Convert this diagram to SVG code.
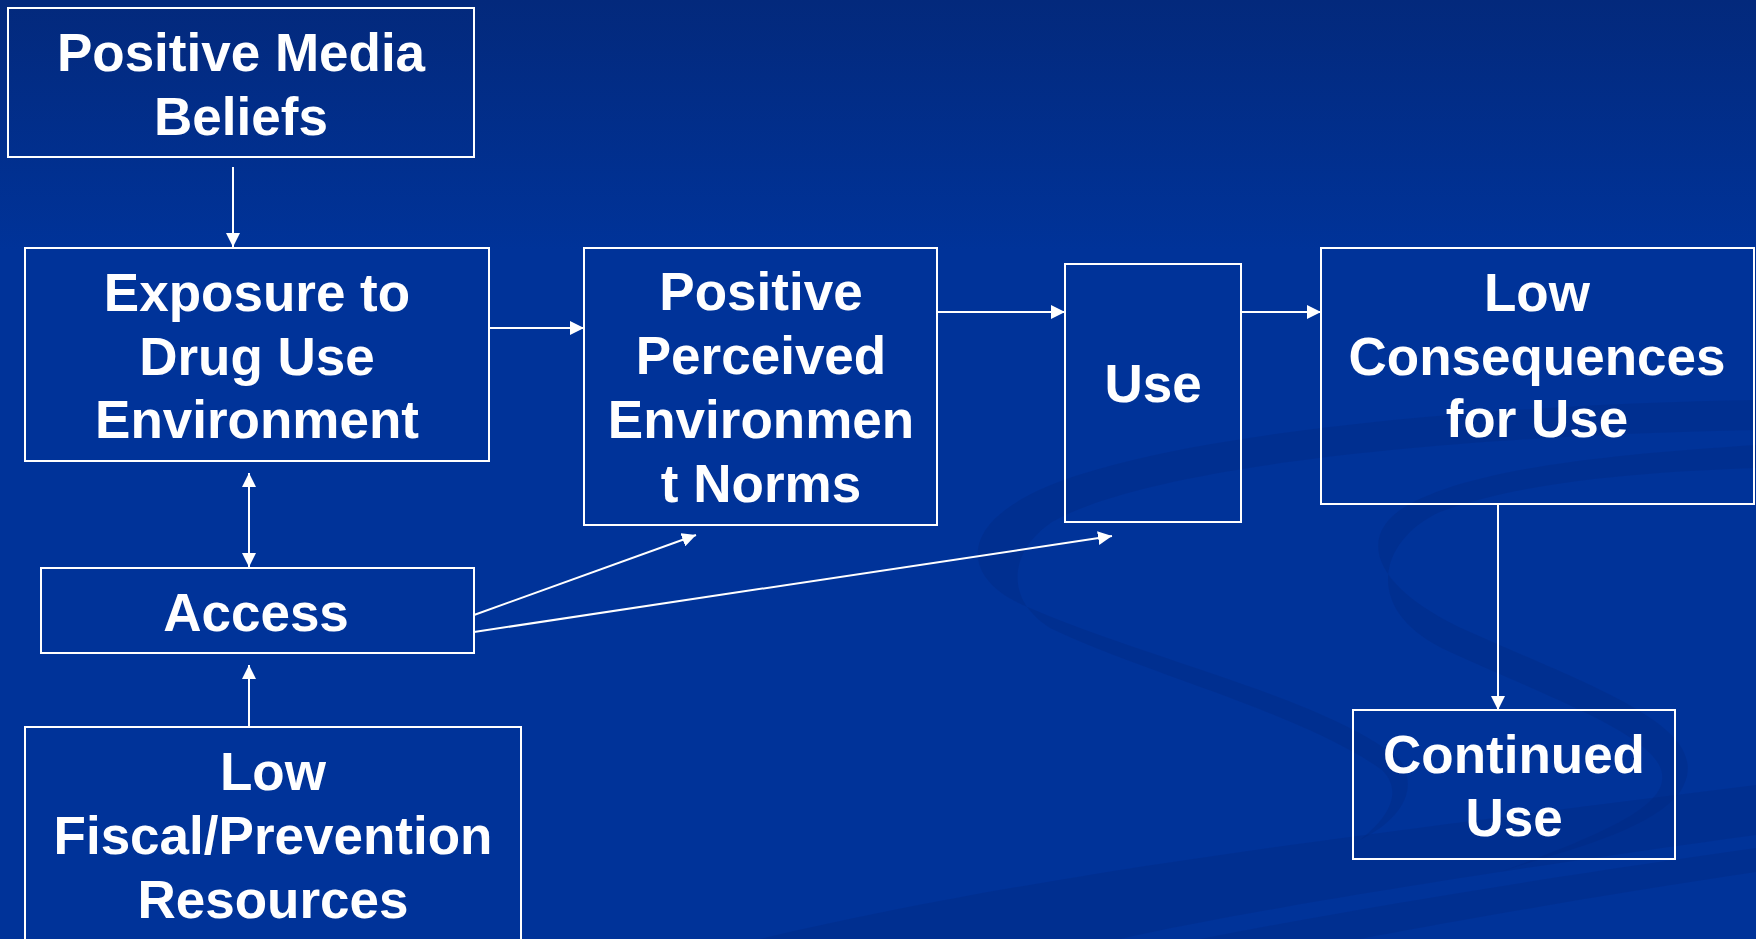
<svg xmlns="http://www.w3.org/2000/svg" width="1756" height="939" viewBox="0 0 1756 939">
  <defs>
    <linearGradient id="bg" x1="0" y1="0" x2="0" y2="250" gradientUnits="userSpaceOnUse">
      <stop offset="0" stop-color="#03297c"/>
      <stop offset="1" stop-color="#003399"/>
    </linearGradient>
    <marker id="arrow" viewBox="0 0 14 14" refX="14" refY="7" markerWidth="14" markerHeight="14" markerUnits="userSpaceOnUse" orient="auto-start-reverse">
      <path d="M0,0 L14,7 L0,14 Z" fill="#ffffff"/>
    </marker>
    <style>
      .box { fill: none; stroke: #ffffff; stroke-width: 2; }
      .lbl { font-family: "Liberation Sans", Arial, sans-serif; font-weight: bold; font-size: 53px; fill: #ffffff; text-anchor: middle; }
      .edge { stroke: #ffffff; stroke-width: 2; fill: none; }
      .swoosh { fill: #00287f; opacity: 0.3; }
    </style>
  </defs>

  <rect x="0" y="0" width="1756" height="939" fill="url(#bg)"/>

  <g id="background-swooshes">
    <path class="swoosh" d="M1756 400 C1450 405 1120 440 1020 500 C955 538 970 585 1030 608 C1150 660 1330 700 1400 760 C1420 790 1400 820 1360 840 C1392 815 1402 790 1382 770 C1300 712 1140 672 1050 628 C1005 600 1008 552 1052 522 C1150 466 1450 436 1756 430 Z"/>
    <path class="swoosh" d="M1756 445 C1600 455 1460 470 1400 510 C1355 542 1380 592 1470 632 C1600 690 1720 730 1680 792 C1650 832 1560 852 1500 872 C1580 842 1660 812 1662 780 C1668 740 1560 702 1450 652 C1360 612 1378 540 1440 512 C1520 482 1640 472 1756 468 Z"/>
    <path class="swoosh" d="M760 939 C1050 870 1400 830 1756 785 L1756 835 C1500 870 1250 910 1120 939 Z"/>
    <path class="swoosh" d="M1200 939 C1400 900 1600 870 1756 848 L1756 872 C1620 892 1460 920 1360 939 Z"/>
  </g>

  <g id="connectors">
    <line class="edge" x1="233" y1="167" x2="233" y2="247" marker-end="url(#arrow)"/>
    <line class="edge" x1="489" y1="328" x2="584" y2="328" marker-end="url(#arrow)"/>
    <line class="edge" x1="937" y1="312" x2="1065" y2="312" marker-end="url(#arrow)"/>
    <line class="edge" x1="1241" y1="312" x2="1321" y2="312" marker-end="url(#arrow)"/>
    <line class="edge" x1="1498" y1="504" x2="1498" y2="710" marker-end="url(#arrow)"/>
    <line class="edge" x1="249" y1="473" x2="249" y2="567" marker-start="url(#arrow)" marker-end="url(#arrow)"/>
    <line class="edge" x1="249" y1="727" x2="249" y2="665" marker-end="url(#arrow)"/>
    <line class="edge" x1="474" y1="615" x2="696" y2="535" marker-end="url(#arrow)"/>
    <line class="edge" x1="474" y1="632" x2="1112" y2="536" marker-end="url(#arrow)"/>
  </g>

  <g id="node-positive-media-beliefs">
    <rect class="box" x="8" y="8" width="466" height="149"/>
    <text class="lbl" x="241" y="71">Positive Media</text>
    <text class="lbl" x="241" y="135">Beliefs</text>
  </g>

  <g id="node-exposure">
    <rect class="box" x="25" y="248" width="464" height="213"/>
    <text class="lbl" x="257" y="311">Exposure to</text>
    <text class="lbl" x="257" y="375">Drug Use</text>
    <text class="lbl" x="257" y="438">Environment</text>
  </g>

  <g id="node-positive-perceived">
    <rect class="box" x="584" y="248" width="353" height="277"/>
    <text class="lbl" x="761" y="310">Positive</text>
    <text class="lbl" x="761" y="374">Perceived</text>
    <text class="lbl" x="761" y="438">Environmen</text>
    <text class="lbl" x="761" y="502">t Norms</text>
  </g>

  <g id="node-use">
    <rect class="box" x="1065" y="264" width="176" height="258"/>
    <text class="lbl" x="1153" y="402">Use</text>
  </g>

  <g id="node-low-consequences">
    <rect class="box" x="1321" y="248" width="433" height="256"/>
    <text class="lbl" x="1537" y="311">Low</text>
    <text class="lbl" x="1537" y="375">Consequences</text>
    <text class="lbl" x="1537" y="437">for Use</text>
  </g>

  <g id="node-access">
    <rect class="box" x="41" y="568" width="433" height="85"/>
    <text class="lbl" x="256" y="631">Access</text>
  </g>

  <g id="node-low-fiscal">
    <rect class="box" x="25" y="727" width="496" height="230"/>
    <text class="lbl" x="273" y="790">Low</text>
    <text class="lbl" x="273" y="854">Fiscal/Prevention</text>
    <text class="lbl" x="273" y="918">Resources</text>
  </g>

  <g id="node-continued-use">
    <rect class="box" x="1353" y="710" width="322" height="149"/>
    <text class="lbl" x="1514" y="773">Continued</text>
    <text class="lbl" x="1514" y="836">Use</text>
  </g>
</svg>
